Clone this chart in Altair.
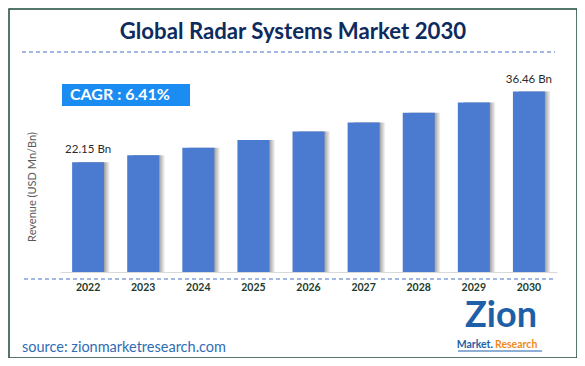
import altair as alt
import pandas as pd

years = ["2022", "2023", "2024", "2025", "2026", "2027", "2028", "2029", "2030"]
revenue = [22.15, 23.57, 25.08, 26.69, 28.40, 30.22, 32.16, 34.26, 36.46]
value_labels = ["22.15 Bn", "", "", "", "", "", "", "", "36.46 Bn"]

title_text = "Global Radar Systems Market 2030"
cagr_text = "CAGR :  6.41%"
y_title = "Revenue (USD Mn/Bn)"
source_text = "source: zionmarketresearch.com"

df = pd.DataFrame({"year": years, "revenue": revenue, "label": value_labels})

FONT = "Lato"
one = alt.Data(values=[{}])

x_enc = alt.X("year:N", sort=years,
              scale=alt.Scale(paddingInner=0.42, paddingOuter=0.22),
              axis=alt.Axis(title=None, ticks=False, domain=True, domainColor="#d9d9d9",
                            domainWidth=1.2, labelAngle=0, labelFont=FONT, labelFontSize=10.5,
                            labelFontWeight="bold", labelColor="#1c3b2c", labelPadding=10))
y_enc = alt.Y("revenue:Q", scale=alt.Scale(domain=[0, 40], nice=False), axis=None)

shadow = alt.Chart(df).mark_bar(
    xOffset=6,
    color=alt.LinearGradient(gradient="linear", x1=0, x2=1, y1=0, y2=0,
                             stops=[alt.GradientStop(color="#9a9a9a", offset=0),
                                    alt.GradientStop(color="#9a9a9a", offset=0.8),
                                    alt.GradientStop(color="#ffffff", offset=1)])
).encode(x=x_enc, y=y_enc)

bars = alt.Chart(df).mark_bar(color="#4a7bd0").encode(x=x_enc, y=y_enc)

labels = alt.Chart(df).mark_text(font=FONT, fontSize=11.5, color="#2b2b2b", baseline="bottom",
                                 dy=-7).encode(x=x_enc, y=y_enc, text="label:N")

def deco_text(text, x, y, **kw):
    return alt.Chart(one).mark_text(text=text, font=FONT, **kw).encode(x=alt.value(x), y=alt.value(y))

def deco_rule(x, x2, y, y2, **kw):
    return alt.Chart(one).mark_rule(**kw).encode(x=alt.value(x), x2=alt.value(x2), y=alt.value(y), y2=alt.value(y2))

border = alt.Chart(one).mark_rect(filled=False, stroke="#1f4a3a", strokeWidth=1.5).encode(
    x=alt.value(-51), x2=alt.value(517), y=alt.value(-65), y2=alt.value(284))

title = deco_text(title_text, 233, -42, fontSize=22.2, fontWeight="bold", color="#0d2b5e",
                  align="center", baseline="middle")
title_line = deco_rule(-38, 495, -22, -22, color="#4472c4", strokeDash=[4, 3], strokeWidth=1.2)
bottom_line = deco_rule(-36, 496, 205, 205, color="#4472c4", strokeDash=[4, 3], strokeWidth=1.2)

cagr_box = alt.Chart(one).mark_rect(color="#1b8df2").encode(
    x=alt.value(2), x2=alt.value(130), y=alt.value(10), y2=alt.value(32))
cagr = deco_text(cagr_text, 10, 21, fontSize=16, fontWeight="bold", color="white",
                 align="left", baseline="middle")

ytitle = deco_text(y_title, -27, 113, fontSize=11, color="#595959", angle=270,
                   align="center", baseline="middle")

source = deco_text(source_text, -38, 274, fontSize=14.5, color="#2f6db5",
                   align="left", baseline="middle")

logo = deco_text("Zion", 441, 242, fontSize=36, fontWeight="bold", color="#1f5fa8",
                 align="center", baseline="middle")
logo_m = deco_text("Market.", 433, 271, fontSize=10.5, fontWeight="bold", color="#1f5fa8",
                   align="right", baseline="middle")
logo_r = deco_text("Research", 435, 271, fontSize=10.5, fontWeight="bold", color="#f08a1c",
                   align="left", baseline="middle")
logo_line = deco_rule(398, 482, 277, 277, color="#1f5fa8", strokeWidth=1)

chart = alt.layer(
    border, title, title_line, bottom_line, shadow, bars, labels, cagr_box, cagr, ytitle,
    source, logo, logo_m, logo_r, logo_line
).properties(
    width=497, height=198,
    autosize=alt.AutoSizeParams(type="none"),
    padding={"left": 52, "top": 66, "right": 20, "bottom": 86},
).configure_view(stroke=None)

chart.save("out.html", embed_options={"renderer": "svg", "actions": False})
